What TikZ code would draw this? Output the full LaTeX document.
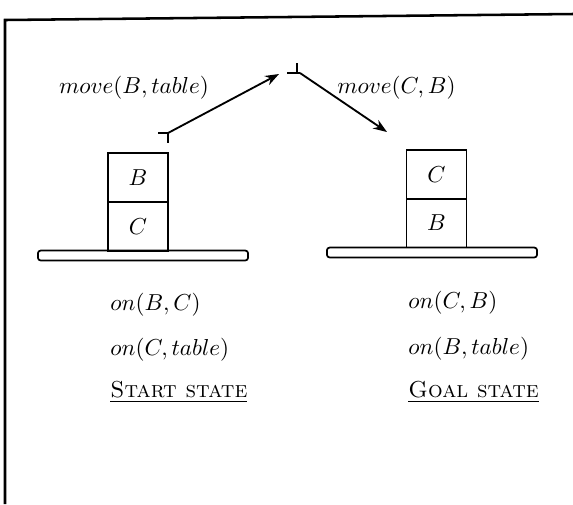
\documentclass[tikz,border=0pt]{standalone}
\usetikzlibrary{positioning, calc, arrows.meta}
\usepackage{amsmath, amssymb}
\tikzset{
    block node/.style={rectangle, draw, line width=0.75pt, minimum width=26pt, minimum height=21.2pt, inner sep=0pt, font=\normalsize},
    table node/.style={rectangle, draw, rounded corners=1.2pt, line width=0.75pt, minimum width=91pt, minimum height=4.3pt, inner sep=0pt},
    fact label/.style={anchor=west, inner sep=0pt},
    state label/.style={anchor=west, inner sep=0pt},
    move arrow/.style={line width=0.8pt, -{Stealth[length=6pt, width=4.4pt]}},
    step tick/.style={line width=0.8pt},
}
\newcommand{\statename}[1]{\underline{\textsc{#1}}}

\begin{document}
\begin{tikzpicture}[x=0.433pt, y=-0.433pt]
            \useasboundingbox (0,0) rectangle (573,504);
            % frame
            \draw[line width=1.1pt] (573,14) -- (5,20) -- (5,504);
            % start state
            \node[block node] (startB) at (138,177.5) {$B$};
            \node[block node] (startC) at (138,226.5) {$C$};
            \node[table node] (startTable) at (143,255.5) {};
            \node[fact label] (startOn1) at (110,305) {$on(B,C)$};
            \node[fact label] (startOn2) at (110,350) {$on(C,table)$};
            \node[state label] (startName) at (110,392) {\statename{Start state}};
            % goal state
            \node[block node] (goalC) at (436.5,174.5) {$C$};
            \node[block node] (goalB) at (436.5,223) {$B$};
            \node[table node] (goalTable) at (432,252.5) {};
            \node[fact label] (goalOn1) at (408,303) {$on(C,B)$};
            \node[fact label] (goalOn2) at (408,349) {$on(B,table)$};
            \node[state label] (goalName) at (408,392) {\statename{Goal state}};
            % plan steps
            \coordinate (s0) at (168,133);
            \coordinate (s1) at (297,73);
            \coordinate (s1in) at (279,74);
            \coordinate (s1out) at (300,73);
            \coordinate (s2) at (387,132);
            \draw[step tick] ($(s0)+(-10,0)$) -- (s0) -- ($(s0)+(0,10)$);
            \draw[step tick] ($(s1)+(0,-10)$) -- (s1) ($(s1)+(-10,0)$) -- (s1out);
            \draw[move arrow] (s0) -- (s1in);
            \draw[move arrow] (s1out) -- (s2);
            \node (move1) at (134,88) {$move(B,table)$};
            \node[anchor=west, inner sep=0pt] (move2) at (337,88) {$move(C,B)$};
        \end{tikzpicture}
\end{document}
